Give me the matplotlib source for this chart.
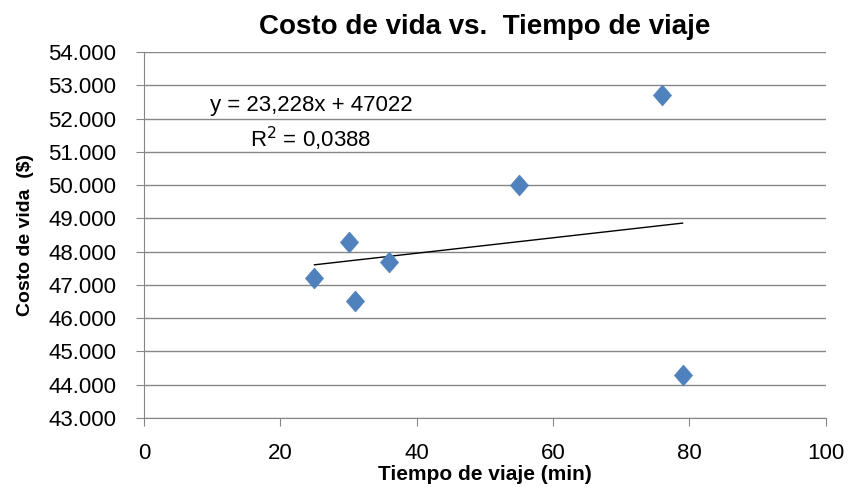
import numpy as np
import matplotlib
matplotlib.use("Agg")
import matplotlib.pyplot as plt
from matplotlib.ticker import FuncFormatter

# data
tiempo = [25, 30, 31, 36, 55, 76, 79]
costo = [47200, 48300, 46500, 47700, 50000, 52700, 44300]
slope, intercept = 23.228, 47022
eq_text = "y = 23,228x + 47022"
r2_text = "R$^2$ = 0,0388"

plt.rcParams['font.family'] = ['Liberation Sans', 'DejaVu Sans']

fig = plt.figure(figsize=(8.49, 4.87), dpi=100)
ax = fig.add_axes([0.1696, 0.142, 0.803, 0.751])

# diamond marker, a little taller than wide
diamond = [(0, 1.15), (1, 0), (0, -1.15), (-1, 0), (0, 1.15)]
ax.plot(tiempo, costo, linestyle='none', marker=diamond, markersize=15,
        color='#4F81BD', markeredgecolor='#4F81BD', markeredgewidth=0.5, zorder=3)

# linear trendline over the data range
xs = np.array([min(tiempo), max(tiempo)])
ax.plot(xs, slope * xs + intercept, color='black', linewidth=1, zorder=2)

ax.set_xlim(0, 100)
ax.set_ylim(43000, 54000)
ax.set_xticks(range(0, 101, 20))
ax.set_yticks(range(43000, 54001, 1000))
ax.yaxis.set_major_formatter(FuncFormatter(lambda v, p: f"{int(v):,}".replace(",", ".")))

ax.grid(axis='y', color='#868686', linewidth=1)
ax.set_axisbelow(True)
for s in ['top', 'right']:
    ax.spines[s].set_visible(False)
for s in ['left', 'bottom']:
    ax.spines[s].set_color('#868686')
ax.tick_params(axis='both', colors='#868686', labelcolor='black', labelsize=16, length=6)
ax.tick_params(axis='y', pad=14)
ax.tick_params(axis='x', pad=12)

ax.set_title("Costo de vida vs.  Tiempo de viaje", fontsize=20, fontweight='bold', pad=13)
ax.set_xlabel("Tiempo de viaje (min)", fontsize=15, fontweight='bold', labelpad=1)
ax.set_ylabel("Costo de vida  ($)", fontsize=14, fontweight='bold', labelpad=10)

ax.text(24.5, 52400, eq_text, fontsize=16, ha='center', va='center')
ax.text(24.5, 51380, r2_text, fontsize=16, ha='center', va='center')

fig.savefig("out.png", dpi=100)
